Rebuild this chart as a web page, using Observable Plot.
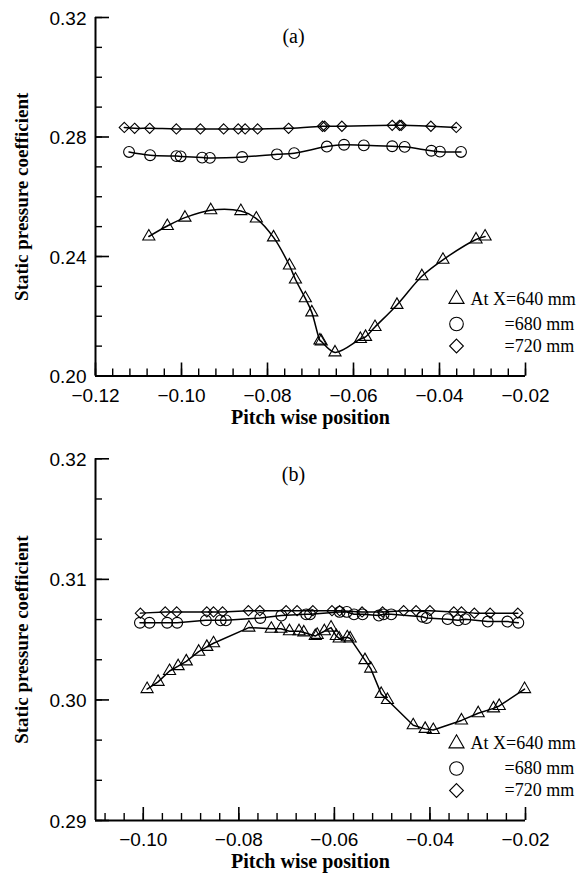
<!DOCTYPE html>
<html>
<head>
<meta charset="utf-8">
<script src="https://cdn.jsdelivr.net/npm/d3@7"></script>
<script src="https://cdn.jsdelivr.net/npm/@observablehq/plot@0.6"></script>
<style>
  html, body { margin: 0; padding: 0; background: #fff; color: #000; }
  #chart svg { display: block; }
</style>
</head>
<body>
<div id="chart"></div>
<script>
// ---------- data: panel (a) ----------
const a640x = [-0.1076, -0.1033, -0.0992, -0.0932, -0.0862, -0.0826, -0.0786, -0.0749, -0.0735, -0.0712, -0.0697, -0.0678, -0.0675, -0.0643, -0.0584, -0.0572, -0.0550, -0.0499, -0.0441, -0.0392, -0.0315, -0.0294];
const a640y = [0.2467, 0.2502, 0.2530, 0.2555, 0.2552, 0.2527, 0.2464, 0.2370, 0.2323, 0.2260, 0.2213, 0.2119, 0.2116, 0.2079, 0.2124, 0.2131, 0.2164, 0.2238, 0.2334, 0.2389, 0.2457, 0.2467];
const a680x = [-0.1122, -0.1073, -0.1012, -0.1002, -0.0952, -0.0934, -0.0859, -0.0778, -0.0738, -0.0662, -0.0622, -0.0576, -0.0510, -0.0481, -0.0419, -0.0399, -0.0350];
const a680y = [0.2750, 0.2739, 0.2736, 0.2735, 0.2731, 0.2730, 0.2733, 0.2742, 0.2746, 0.2768, 0.2774, 0.2772, 0.2769, 0.2767, 0.2754, 0.2751, 0.2750];
const a720x = [-0.1133, -0.1109, -0.1074, -0.1012, -0.0956, -0.0902, -0.0868, -0.0852, -0.0823, -0.0751, -0.0672, -0.0667, -0.0627, -0.0510, -0.0493, -0.0489, -0.0420, -0.0361];
const a720y = [0.2832, 0.2829, 0.2829, 0.2827, 0.2827, 0.2827, 0.2827, 0.2827, 0.2827, 0.2829, 0.2836, 0.2836, 0.2836, 0.2839, 0.2839, 0.2839, 0.2836, 0.2832];

// ---------- data: panel (b) ----------
const b640x = [-0.0992, -0.0969, -0.0945, -0.0927, -0.0910, -0.0884, -0.0867, -0.0853, -0.0779, -0.0732, -0.0712, -0.0694, -0.0674, -0.0664, -0.0640, -0.0636, -0.0621, -0.0607, -0.0596, -0.0590, -0.0573, -0.0567, -0.0536, -0.0524, -0.0502, -0.0489, -0.0435, -0.0410, -0.0393, -0.0334, -0.0299, -0.0267, -0.0255, -0.0202];
const b640y = [0.3009, 0.3015, 0.3024, 0.3028, 0.3032, 0.3040, 0.3044, 0.3047, 0.3060, 0.3059, 0.3059, 0.3057, 0.3057, 0.3056, 0.3053, 0.3054, 0.3057, 0.3060, 0.3053, 0.3051, 0.3052, 0.3051, 0.3033, 0.3026, 0.3005, 0.3000, 0.2979, 0.2976, 0.2975, 0.2983, 0.2989, 0.2993, 0.2995, 0.3009];
const b680x = [-0.1007, -0.0987, -0.0950, -0.0929, -0.0869, -0.0838, -0.0827, -0.0755, -0.0711, -0.0659, -0.0651, -0.0589, -0.0574, -0.0559, -0.0541, -0.0507, -0.0497, -0.0481, -0.0416, -0.0407, -0.0363, -0.0341, -0.0326, -0.0279, -0.0238, -0.0215];
const b680y = [0.3064, 0.3064, 0.3064, 0.3064, 0.3066, 0.3066, 0.3066, 0.3068, 0.3070, 0.3071, 0.3071, 0.3073, 0.3073, 0.3071, 0.3071, 0.3070, 0.3071, 0.3071, 0.3069, 0.3068, 0.3067, 0.3066, 0.3067, 0.3065, 0.3065, 0.3064];
const b720x = [-0.1006, -0.0954, -0.0930, -0.0867, -0.0853, -0.0834, -0.0780, -0.0756, -0.0701, -0.0678, -0.0645, -0.0605, -0.0589, -0.0542, -0.0499, -0.0455, -0.0429, -0.0400, -0.0350, -0.0334, -0.0307, -0.0274, -0.0216];
const b720y = [0.3072, 0.3073, 0.3073, 0.3073, 0.3073, 0.3073, 0.3074, 0.3074, 0.3074, 0.3074, 0.3074, 0.3074, 0.3074, 0.3073, 0.3073, 0.3074, 0.3074, 0.3074, 0.3073, 0.3073, 0.3072, 0.3072, 0.3072];

// ---------- labels & ticks ----------
const legendLabels = ["At X=640 mm", "=680 mm", "=720 mm"];
const seriesSymbols = ["triangle", "circle", "diamond2"];
const panelTags = ["(a)", "(b)"];
const xLabel = "Pitch wise position";
const yLabel = "Static pressure coefficient";
const aXDomain = [-0.12, -0.02];
const aYDomain = [0.20, 0.32];
const bXDomain = [-0.11, -0.02];
const bYDomain = [0.29, 0.32];
const aXTicks = [-0.12, -0.10, -0.08, -0.06, -0.04, -0.02];
const aYTicks = [0.20, 0.24, 0.28, 0.32];
const bXTicks = [-0.10, -0.08, -0.06, -0.04, -0.02];
const bYTicks = [0.29, 0.30, 0.31, 0.32];
const aXMinor = d3.range(0, 26).map(i => -0.12 + i * 0.004);
const aYMinor = d3.range(0, 13).map(i => 0.20 + i * 0.01);
const bXMinor = d3.range(0, 23).map(i => -0.108 + i * 0.004);
const bYMinor = d3.range(0, 10).map(i => 0.29 + i * 0.01 / 3);

const sans = "'Liberation Sans', Arial, Helvetica, sans-serif";
const serif = "'Liberation Serif', 'Times New Roman', Times, serif";

function rows(xs, ys) { return xs.map((x, i) => ({x, y: ys[i]})); }

function panel(o) {
  const W = 578, mL = 95, mR = 53;
  const fw = W - mL - mR, fh = o.height - o.mT - o.mB;
  const symR = [4.5, 5.4, 4.6];
  const legR = [5.6, 6.8, 6.2];
  const legDy = [-77, -52, -30];
  const legTextDx = [-55, -21, -21];
  const marks = [
    Plot.ruleX([o.xDomain[0]], {stroke: "#000", strokeWidth: 2}),
    Plot.ruleY([o.yDomain[0]], {stroke: "#000", strokeWidth: 2}),
    Plot.tickX(o.xMinor, {x: d => d, insetTop: fh - 7, stroke: "#000", strokeWidth: 1.4}),
    Plot.tickX(o.xTicks, {x: d => d, insetTop: fh - 13, stroke: "#000", strokeWidth: 1.6}),
    Plot.tickY(o.yMinor, {y: d => d, insetRight: fw - 7, stroke: "#000", strokeWidth: 1.4}),
    Plot.tickY(o.yTicks, {y: d => d, insetRight: fw - 14, stroke: "#000", strokeWidth: 1.6}),
    Plot.axisX({ticks: o.xTicks, tickSize: 0, tickPadding: 12, tickFormat: d3.format(".2f"),
      fontSize: 19, fontFamily: sans, label: null}),
    Plot.axisY({ticks: o.yTicks, tickSize: 0, tickPadding: 9, tickFormat: d3.format(".2f"),
      fontSize: 19, fontFamily: sans, label: null, dy: 1}),
    Plot.text([xLabel], {frameAnchor: "bottom", dy: 33.5, lineAnchor: "top", textAnchor: "middle",
      fontWeight: "bold", fontFamily: serif, fontSize: 20}),
    Plot.text([yLabel], {frameAnchor: "left", dx: -74, rotate: -90, textAnchor: "middle", lineAnchor: "middle",
      fontWeight: "bold", fontFamily: serif, fontSize: 19}),
    Plot.text([o.tag], {frameAnchor: "top", dx: -17, dy: o.tagDy, textAnchor: "middle", lineAnchor: "middle",
      fontFamily: serif, fontSize: 20})
  ];
  o.series.forEach((s, i) => {
    const d = rows(s[0], s[1]);
    marks.push(Plot.line(d, {x: "x", y: "y", curve: o.curve, stroke: "#000", strokeWidth: 1.5}));
    marks.push(Plot.dot(d, {x: "x", y: "y", symbol: seriesSymbols[i], r: symR[i],
      stroke: "#000", fill: "none", strokeWidth: 1.1}));
    marks.push(Plot.dot([legendLabels[i]], {frameAnchor: "bottom-right", dx: -69, dy: legDy[i],
      symbol: seriesSymbols[i], r: legR[i], stroke: "#000", fill: "none", strokeWidth: 1.1}));
    marks.push(Plot.text([legendLabels[i]], {frameAnchor: "bottom-right", dx: legTextDx[i], dy: legDy[i],
      textAnchor: "start", lineAnchor: "middle", fontFamily: serif, fontSize: 18}));
  });
  return Plot.plot({
    width: W, height: o.height,
    marginLeft: mL, marginRight: mR, marginTop: o.mT, marginBottom: o.mB,
    x: {domain: o.xDomain},
    y: {domain: o.yDomain},
    style: {background: "#fff", color: "#000", overflow: "visible"},
    marks
  });
}

const chart = document.getElementById("chart");
chart.appendChild(panel({
  height: 441, mT: 17, mB: 65.5,
  xDomain: aXDomain, yDomain: aYDomain,
  xTicks: aXTicks, yTicks: aYTicks, xMinor: aXMinor, yMinor: aYMinor,
  series: [[a640x, a640y], [a680x, a680y], [a720x, a720y]],
  curve: "catmull-rom", tag: panelTags[0], tagDy: 19
}));
chart.appendChild(panel({
  height: 437, mT: 17.3, mB: 58,
  xDomain: bXDomain, yDomain: bYDomain,
  xTicks: bXTicks, yTicks: bYTicks, xMinor: bXMinor, yMinor: bYMinor,
  series: [[b640x, b640y], [b680x, b680y], [b720x, b720y]],
  curve: "linear", tag: panelTags[1], tagDy: 16
}));
</script>
</body>
</html>
